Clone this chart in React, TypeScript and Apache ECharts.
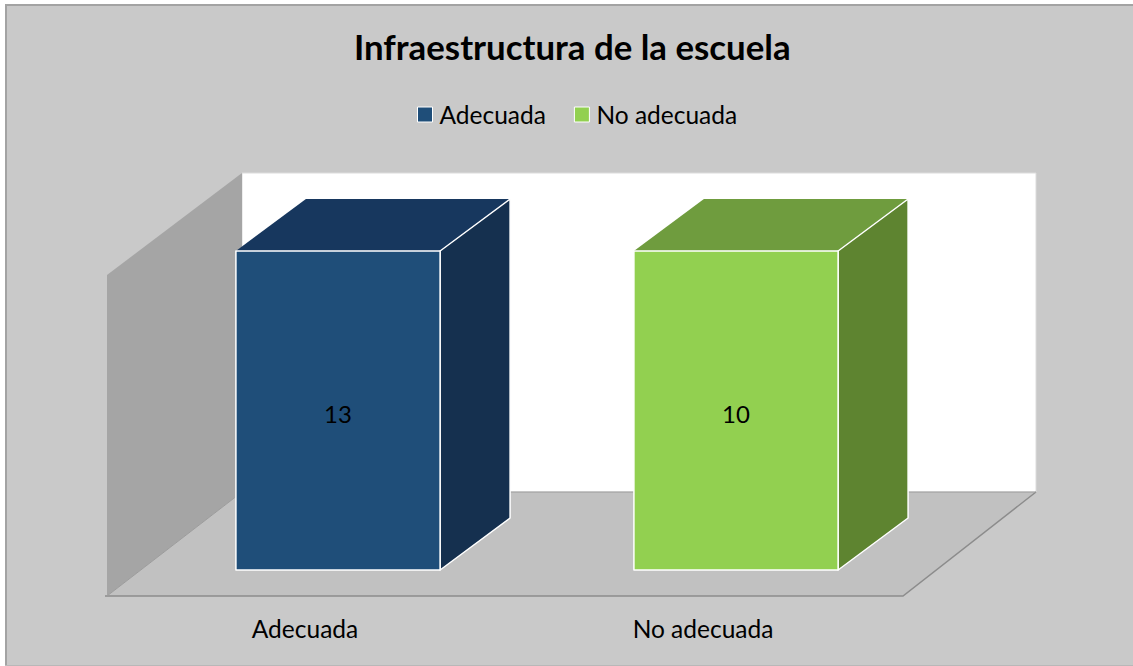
import React, { useEffect, useRef } from "react";
import * as echarts from "echarts";

const title = "Infraestructura de la escuela";
const categories = ["Adecuada", "No adecuada"];
const seriesNames = ["Adecuada", "No adecuada"];
const adecuadaValues = [13, null];
const noAdecuadaValues = [null, 10];
// Each column is 100% stacked in the source chart, so both reach the same height.
const axisTicks = [0, 100];

const FONT = "Lato, Carlito, Calibri, sans-serif";
const DEPTH_X = 70;
const DEPTH_Y = -52;
const PLANE_X = 33;
const PLANE_Y = -26;
const BAR_RATIO = 0.513;

function makeRenderItem(front: string, top: string, side: string, raw: (number | null)[]) {
  return (params: any, api: any) => {
    const cat = api.value(0);
    const value = raw[cat];
    if (value == null) return { type: "group", children: [] };
    const totals = [adecuadaValues, noAdecuadaValues].reduce((s, a) => s + (a[cat] ?? 0), 0);
    const share = (value / totals) * 100;
    const base = api.coord([cat, 0]);
    const head = api.coord([cat, share]);
    const w = api.size([1, 0])[0] * BAR_RATIO;
    const x0 = base[0] + PLANE_X - w / 2;
    const x1 = x0 + w;
    const yB = base[1] + PLANE_Y;
    const yT = head[1] + PLANE_Y;
    const edge = { stroke: "#ffffff", lineWidth: 1.5, lineJoin: "round" };
    return {
      type: "group",
      children: [
        {
          type: "polygon",
          shape: { points: [[x0, yT], [x1, yT], [x1 + DEPTH_X, yT + DEPTH_Y], [x0 + DEPTH_X, yT + DEPTH_Y]] },
          style: { fill: top },
        },
        {
          type: "polygon",
          shape: { points: [[x1, yT], [x1 + DEPTH_X, yT + DEPTH_Y], [x1 + DEPTH_X, yB + DEPTH_Y], [x1, yB]] },
          style: { fill: side, ...edge },
        },
        {
          type: "rect",
          shape: { x: x0, y: yT, width: w, height: yB - yT },
          style: { fill: front, ...edge },
        },
        {
          type: "text",
          x: (x0 + x1) / 2,
          y: (yT + yB) / 2 + 3,
          style: {
            text: String(value),
            fill: "#000000",
            font: `24px ${FONT}`,
            textAlign: "center",
            textVerticalAlign: "middle",
          },
        },
      ],
    };
  };
}

export default function App() {
  const ref = useRef<HTMLDivElement>(null);
  useEffect(() => {
    const chart = echarts.init(ref.current!, null, { renderer: "svg" });
    chart.setOption({
      animation: false,
      backgroundColor: "#ffffff",
      title: {
        text: title,
        left: 354,
        top: 29,
        padding: 0,
        textStyle: { fontFamily: FONT, fontSize: 34.8, fontWeight: "bold", color: "#000000" },
      },
      legend: {
        left: 417,
        top: 102,
        padding: 0,
        itemWidth: 15,
        itemHeight: 15,
        itemGap: 28,
        data: seriesNames,
        icon: "rect",
        itemStyle: { borderColor: "#ffffff", borderWidth: 1 },
        textStyle: { fontFamily: FONT, fontSize: 24.5, color: "#000000", padding: [0, 0, 0, 2] },
      },
      grid: { left: 106, top: 277, width: 796, height: 319 },
      xAxis: {
        type: "category",
        data: categories,
        axisLine: { show: false },
        axisTick: { show: false },
        axisLabel: { fontFamily: FONT, fontSize: 24.5, color: "#000000", margin: 20 },
      },
      yAxis: {
        type: "value",
        min: axisTicks[0],
        max: axisTicks[1],
        show: false,
      },
      graphic: [
        {
          type: "rect",
          z: 0,
          shape: { x: 5, y: 4, width: 1128, height: 662 },
          style: { fill: "#c9c9c9" },
        },
        {
          type: "polyline",
          z: 0,
          shape: { points: [[6, 666], [6, 5], [1133, 5]] },
          style: { fill: "none", stroke: "#a3a3a3", lineWidth: 2 },
        },
        {
          type: "line",
          z: 0,
          shape: { x1: 5, y1: 665.5, x2: 1133, y2: 665.5 },
          style: { stroke: "#b8b8b8", lineWidth: 1 },
        },
        {
          type: "rect",
          z: 1,
          shape: { x: 242, y: 173, width: 794, height: 319 },
          style: { fill: "#ffffff", stroke: "#dcdcdc", lineWidth: 1 },
        },
        {
          type: "polygon",
          z: 1,
          shape: { points: [[107, 275], [242, 173], [242, 492], [107, 596]] },
          style: { fill: "#a5a5a5" },
        },
        {
          type: "polygon",
          z: 1,
          shape: { points: [[107, 596], [242, 492], [1036, 492], [903, 596]] },
          style: { fill: "#c1c1c1" },
        },
        {
          type: "polyline",
          z: 1,
          shape: { points: [[105, 596], [903, 596], [1036, 492]] },
          style: { fill: "none", stroke: "#8c8c8c", lineWidth: 1.5 },
        },
        {
          type: "polyline",
          z: 1,
          shape: { points: [[107, 596], [242, 492], [1036, 492]] },
          style: { fill: "none", stroke: "#9c9c9c", lineWidth: 1 },
        },
      ],
      series: [
        {
          type: "custom",
          name: seriesNames[0],
          z: 5,
          itemStyle: { color: "#1f4e79" },
          data: adecuadaValues.map((v, i) => [i, v]),
          encode: { x: 0, y: 1 },
          renderItem: makeRenderItem("#1f4e79", "#17375e", "#15304f", adecuadaValues),
        },
        {
          type: "custom",
          name: seriesNames[1],
          z: 5,
          itemStyle: { color: "#92d050" },
          data: noAdecuadaValues.map((v, i) => [i, v]),
          encode: { x: 0, y: 1 },
          renderItem: makeRenderItem("#92d050", "#6f9c3e", "#5e8430", noAdecuadaValues),
        },
      ],
    });
    return () => chart.dispose();
  }, []);
  return (
    <div
      ref={ref}
      style={{ position: "absolute", left: 0, top: 0, width: 1133, height: 666 }}
    />
  );
}
